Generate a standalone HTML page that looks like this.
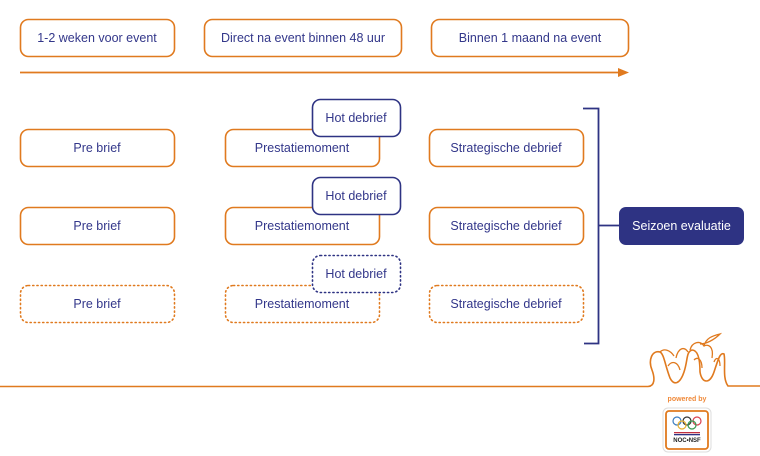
<!DOCTYPE html>
<html><head><meta charset="utf-8"><style>
html,body{margin:0;padding:0;background:#fff;}
svg{display:block;}
text{font-family:"Liberation Sans",sans-serif;font-size:12.5px;fill:#33378A;text-anchor:middle;dominant-baseline:central;}
</style></head><body>
<svg width="760" height="456" viewBox="0 0 760 456">
<g fill="#fff" stroke="#E07A1F" stroke-width="1.6">
<rect x="20.5" y="19.5" width="154" height="37" rx="8"/>
<rect x="204.5" y="19.5" width="197" height="37" rx="8"/>
<rect x="431.5" y="19.5" width="197" height="37" rx="8"/>
</g>
<text x="97" y="38">1-2 weken voor event</text>
<text x="303" y="38">Direct na event binnen 48 uur</text>
<text x="530" y="38">Binnen 1 maand na event</text>
<line x1="20" y1="72.5" x2="620" y2="72.5" stroke="#E07A1F" stroke-width="1.8"/>
<polygon points="618,68 629,72.5 618,77" fill="#E07A1F"/>

<g fill="#fff" stroke="#E07A1F" stroke-width="1.6">
<rect x="20.5" y="129.5" width="154" height="37" rx="8"/>
<rect x="225.5" y="129.5" width="154" height="37" rx="8"/>
<rect x="429.5" y="129.5" width="154" height="37" rx="8"/>
<rect x="20.5" y="207.5" width="154" height="37" rx="8"/>
<rect x="225.5" y="207.5" width="154" height="37" rx="8"/>
<rect x="429.5" y="207.5" width="154" height="37" rx="8"/>
</g>
<g fill="#fff" stroke="#E07A1F" stroke-width="1.6" stroke-dasharray="1.2 3" stroke-linecap="round">
<rect x="20.5" y="285.5" width="154" height="37" rx="8"/>
<rect x="225.5" y="285.5" width="154" height="37" rx="8"/>
<rect x="429.5" y="285.5" width="154" height="37" rx="8"/>
</g>
<g fill="#fff" stroke="#2E3383" stroke-width="1.6">
<rect x="312.5" y="99.5" width="88" height="37" rx="8"/>
<rect x="312.5" y="177.5" width="88" height="37" rx="8"/>
</g>
<rect x="312.5" y="255.5" width="88" height="37" rx="8" fill="#fff" stroke="#2E3383" stroke-width="1.6" stroke-dasharray="1.2 3" stroke-linecap="round"/>

<text x="97" y="148">Pre brief</text>
<text x="302" y="148">Prestatiemoment</text>
<text x="356" y="118">Hot debrief</text>
<text x="506" y="148">Strategische debrief</text>
<text x="97" y="226">Pre brief</text>
<text x="302" y="226">Prestatiemoment</text>
<text x="356" y="196">Hot debrief</text>
<text x="506" y="226">Strategische debrief</text>
<text x="97" y="304">Pre brief</text>
<text x="302" y="304">Prestatiemoment</text>
<text x="356" y="274">Hot debrief</text>
<text x="506" y="304">Strategische debrief</text>

<path d="M583 108.5 H598.5 V343.5 H584 M598.5 225.5 H619" fill="none" stroke="#2E3383" stroke-width="1.8"/>
<rect x="619" y="207" width="125" height="38" rx="7" fill="#2E3383"/>
<text x="681.5" y="226" style="fill:#fff">Seizoen evaluatie</text>

<path d="M0 386.5 H648 C655 386 655 378 652 370 C648 360 652 350 660 352 C664 354 665 365 670 378 C674 386 680 384 684 372 C688 360 686 352 692 350 C698 350 700 360 700 372 C702 384 710 384 714 372 C718 360 720 352 724 354 C726 362 722 378 728 386 H760" fill="none" stroke="#E07A1F" stroke-width="1.6"/>
<g fill="none" stroke="#E07A1F" stroke-width="1.3">
<path d="M660 352 C664 348 670 350 674 356 M676 358 C678 348 684 346 688 352 M690 350 C692 342 700 340 704 346 C708 344 714 346 712 358 M704 346 C706 338 712 336 720 334 C714 340 706 344 700 344"/>
<path d="M668 366 C672 360 678 362 680 370 M694 360 C698 356 702 360 702 368 M714 362 C716 356 720 358 720 366"/>
</g>
<text x="687" y="399.5" style="font-size:7px;font-weight:bold;fill:#F08A3A">powered by</text>
<rect x="663" y="408" width="48" height="44" rx="5" fill="#fff" stroke="#ddd" stroke-width="1"/>
<rect x="666" y="411" width="42" height="38" rx="3" fill="#fff" stroke="#E07A1F" stroke-width="1.8"/>
<g fill="none" stroke-width="1.2">
<circle cx="677" cy="421" r="4" stroke="#3A7CC0"/>
<circle cx="687" cy="421" r="4" stroke="#333"/>
<circle cx="697" cy="421" r="4" stroke="#D84050"/>
<circle cx="682" cy="425" r="4" stroke="#E8B030"/>
<circle cx="692" cy="425" r="4" stroke="#3A9A50"/>
</g>
<rect x="674" y="432" width="26" height="1.3" fill="#C03040"/>
<rect x="674" y="434" width="26" height="1.3" fill="#2E3383"/>
<text x="687" y="441" style="font-size:6px;font-weight:bold;fill:#222">NOC•NSF</text>
</svg>
</body></html>
